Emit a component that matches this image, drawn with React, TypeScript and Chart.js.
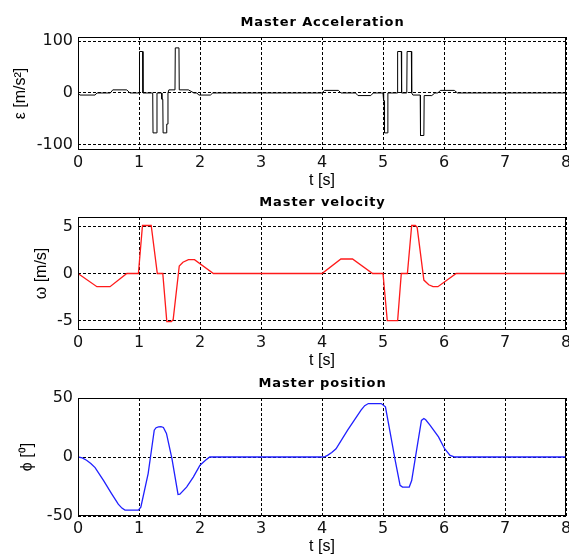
import React, { useEffect, useRef } from 'react';
import { Chart, registerables } from 'chart.js';

Chart.register(...registerables);

// ---------------- data ----------------
const timeTicks = [0, 1, 2, 3, 4, 5, 6, 7, 8];

const accTime = [
  0, 0.03, 0.28, 0.31, 0.53, 0.57, 0.8, 0.85, 1.0, 1.008, 1.06, 1.065, 1.225, 1.23, 1.29, 1.295,
  1.37, 1.375, 1.39, 1.395, 1.45, 1.455, 1.47, 1.475, 1.49, 1.59, 1.595, 1.655, 1.66, 1.81, 1.9,
  1.95, 1.98, 2.17, 2.21, 4.0, 4.04, 4.27, 4.31, 4.55, 4.59, 4.8, 4.84, 5.0, 5.01, 5.02, 5.025,
  5.07, 5.08, 5.235, 5.24, 5.3, 5.305, 5.39, 5.395, 5.465, 5.47, 5.49, 5.61, 5.615, 5.67, 5.675,
  5.8, 5.85, 5.9, 5.94, 6.17, 6.22, 8,
];
const accValue = [
  0, -4, -4, 0, 0, 6, 6, 0, 0, 80, 80, 0, 0, -77, -77, 0,
  0, -12, -12, -77, -77, -60, -60, 0, 6, 6, 87, 87, 6, 6, 0,
  0, -4, -4, 0, 0, 5, 5, 0, 0, -5, -5, 0, 0, -15, -15, -77,
  -77, 0, 0, 80, 80, 0, 0, 80, 80, 0, -4, -4, -82, -82, -5,
  -5, 0, 0, 5, 5, 0, 0,
];

const velTime = [
  0, 0.31, 0.525, 0.8, 0.99, 1.057, 1.2, 1.3, 1.39, 1.456, 1.53, 1.56, 1.66, 1.72, 1.81, 1.91,
  2.22, 4.0, 4.31, 4.5, 4.83, 5.0, 5.07, 5.24, 5.3, 5.4, 5.47, 5.53, 5.56, 5.67, 5.75, 5.82, 5.9,
  6.2, 8,
];
const velValue = [
  0, -1.4, -1.4, 0, 0, 5.1, 5.1, 0, 0, -5.1, -5.1, -4.9, 0.8, 1.2, 1.47, 1.47,
  0, 0, 1.54, 1.54, 0, 0, -5.0, -5.0, 0, 0, 5.1, 5.1, 4.9, -0.7, -1.2, -1.4, -1.4,
  0, 0,
];

const posTime = [
  0, 0.07, 0.14, 0.21, 0.28, 0.42, 0.55, 0.66, 0.72, 0.77, 0.99, 1.03, 1.15, 1.25, 1.28, 1.32,
  1.36, 1.4, 1.45, 1.54, 1.64, 1.67, 1.78, 1.89, 2.0, 2.09, 2.16, 4.0, 4.05, 4.09, 4.16, 4.23,
  4.42, 4.64, 4.7, 4.76, 4.97, 5.04, 5.11, 5.2, 5.28, 5.32, 5.43, 5.47, 5.55, 5.63, 5.67, 5.7,
  5.77, 5.91, 6.01, 6.1, 6.18, 8,
];
const posValue = [
  0, -0.8, -2.8, -5.5, -9, -20, -31, -40, -43.3, -45, -45, -42.5, -14, 22.7, 24.8, 25.5,
  25.8, 25, 20, -1.4, -31.7, -31.5, -25.5, -17, -7, -2.8, 0, 0, 0.3, 1.4, 3.8, 7,
  22.7, 39.7, 43.5, 45.3, 45.3, 42.5, 22.7, -2.8, -24, -25.5, -25.5, -20, 5.7, 31, 32.6, 31.5,
  27, 17, 7, 1.4, 0, 0,
];

const accTicks = [-100, 0, 100];
const velTicks = [-5, 0, 5];
const posTicks = [-50, 0, 50];

const chartTitles = ['Master Acceleration', 'Master velocity', 'Master position'];
const yLabels = ['ε [m/s²]', 'ω [m/s]', 'ϕ [⁰]'];
const xLabel = 't [s]';

// ---------------- layout ----------------
const W = 569;
const panels = [
  { time: accTime, values: accValue, ticks: accTicks, min: -110, max: 108, color: '#000000', lw: 1,
    top: 0, height: 190, plotTop: 37, plotBottom: 150, yTitleX: 20.5 },
  { time: velTime, values: velValue, ticks: velTicks, min: -6, max: 6, color: '#ff1a1a', lw: 1.3,
    top: 190, height: 182, plotTop: 217, plotBottom: 330, yTitleX: 42 },
  { time: posTime, values: posValue, ticks: posTicks, min: -50, max: 50, color: '#2020ff', lw: 1.3,
    top: 372, height: 186, plotTop: 398, plotBottom: 516, yTitleX: 28 },
];
const PLOT_LEFT = 78;
const PLOT_RIGHT = 566;

const boxPlugin = {
  id: 'boxAndTitle',
  afterDraw(chart: any, _args: any, opts: any) {
    const { ctx, chartArea: a } = chart;
    ctx.save();
    ctx.strokeStyle = '#000';
    ctx.lineWidth = 1;
    ctx.setLineDash([]);
    const l = Math.round(a.left) + 0.5;
    const t = Math.round(a.top) + 0.5;
    const r = Math.round(a.right) - 0.5;
    const b = Math.round(a.bottom) - 0.5;
    ctx.strokeRect(l, t, r - l, b - t);
    ctx.fillStyle = '#000';
    ctx.font = 'bold 13px "DejaVu Sans", sans-serif';
    try { (ctx as any).letterSpacing = '0.9px'; } catch (e) {}
    ctx.textAlign = 'center';
    ctx.textBaseline = 'alphabetic';
    ctx.fillText(opts.text, (a.left + a.right) / 2 + 0.5, a.top - 11.5);
    try { (ctx as any).letterSpacing = '0px'; } catch (e) {}
    ctx.restore();
  },
};

export default function App() {
  const refs = [useRef<HTMLCanvasElement>(null), useRef<HTMLCanvasElement>(null), useRef<HTMLCanvasElement>(null)];

  useEffect(() => {
    const charts: Chart[] = [];
    panels.forEach((p, i) => {
      const canvas = refs[i].current;
      if (!canvas) return;
      const canvasBottom = p.top + p.height;
      const xTitleCenter = p.plotBottom + 31;
      const titleFontSize = 16;
      const lh = titleFontSize * 1.2;
      const chart = new Chart(canvas, {
        type: 'line',
        data: {
          datasets: [
            {
              data: p.time.map((t, k) => ({ x: t, y: p.values[k] })),
              borderColor: p.color,
              borderWidth: p.lw,
              pointRadius: 0,
              tension: 0,
              fill: false,
            },
          ],
        },
        options: {
          animation: false,
          responsive: false,
          maintainAspectRatio: false,
          devicePixelRatio: 1,
          events: [],
          layout: { padding: { top: p.plotTop - p.top, right: W - PLOT_RIGHT, bottom: 0, left: 0 } },
          plugins: {
            legend: { display: false },
            tooltip: { enabled: false },
            title: { display: false },
            boxAndTitle: { text: chartTitles[i] },
          } as any,
          scales: {
            x: {
              type: 'linear',
              min: 0,
              max: 8,
              afterBuildTicks: (s: any) => { s.ticks = timeTicks.map((v) => ({ value: v })); },
              afterFit: (s: any) => {
                s.height = canvasBottom - p.plotBottom;
                s.paddingLeft = 0; s.paddingRight = 0; s.paddingTop = 0; s.paddingBottom = 0;
              },
              grid: { color: '#000', lineWidth: 1, drawTicks: false, drawOnChartArea: true },
              border: { display: false, dash: [3, 2] },
              ticks: {
                color: '#111',
                font: { family: '"DejaVu Sans", sans-serif', size: 16 },
                padding: 3,
                maxRotation: 0,
                autoSkip: false,
              },
              title: {
                display: true,
                text: xLabel,
                color: '#000',
                font: { family: '"Liberation Sans", Arial, sans-serif', size: titleFontSize, lineHeight: 1.2 },
                padding: { top: 0, bottom: canvasBottom - xTitleCenter - lh / 2 },
              },
            },
            y: {
              type: 'linear',
              min: p.min,
              max: p.max,
              afterBuildTicks: (s: any) => { s.ticks = p.ticks.map((v) => ({ value: v })); },
              afterFit: (s: any) => {
                s.width = PLOT_LEFT;
                s.paddingLeft = 0; s.paddingRight = 0; s.paddingTop = 0; s.paddingBottom = 0;
              },
              grid: { color: '#000', lineWidth: 1, drawTicks: false, drawOnChartArea: true },
              border: { display: false, dash: [3, 2] },
              ticks: {
                color: '#111',
                font: { family: '"DejaVu Sans", sans-serif', size: 16 },
                padding: 5,
              },
              title: {
                display: true,
                text: yLabels[i],
                color: '#000',
                font: { family: '"Liberation Sans", Arial, sans-serif', size: titleFontSize, lineHeight: 1.2 },
                padding: { top: p.yTitleX - lh / 2, bottom: 0 },
              },
            },
          },
        },
        plugins: [boxPlugin],
      });
      charts.push(chart);
    });
    return () => charts.forEach((c) => c.destroy());
  }, []);

  return (
    <div style={{ position: 'absolute', left: 0, top: 0, width: W, height: 558, background: '#fff' }}>
      {panels.map((p, i) => (
        <canvas
          key={i}
          ref={refs[i]}
          width={W}
          height={p.height}
          style={{ position: 'absolute', left: 0, top: p.top, width: W, height: p.height }}
        />
      ))}
    </div>
  );
}
